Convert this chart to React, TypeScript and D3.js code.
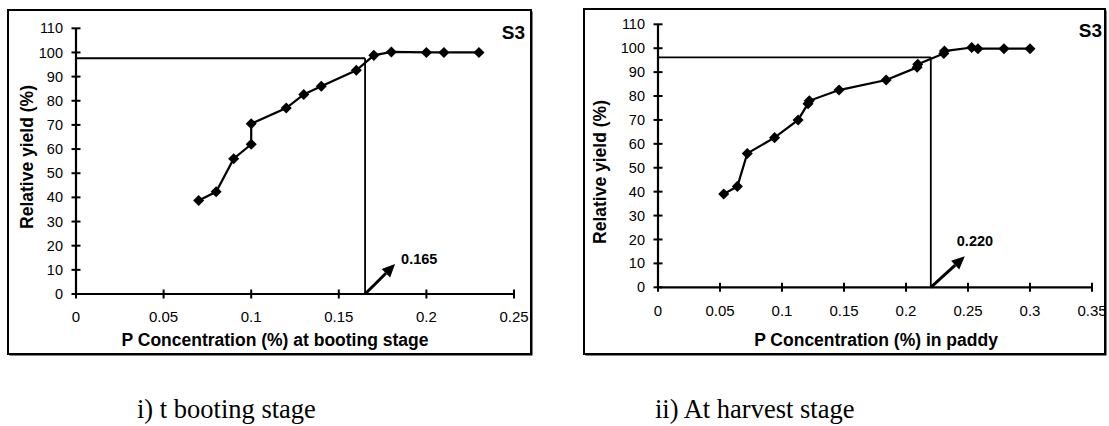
import React from "react";
import * as d3 from "d3";

// booting stage (left panel)
const bootP = [0.07, 0.08, 0.09, 0.1, 0.1, 0.12, 0.13, 0.14, 0.16, 0.17, 0.18, 0.2, 0.21, 0.23];
const bootRY = [38.7, 42.3, 56, 62, 70.5, 77, 82.6, 86, 92.6, 98.8, 100.2, 100, 100, 100];
const bootTicks = [0, 0.05, 0.1, 0.15, 0.2, 0.25];
const bootCritical = 0.165;
const bootCriticalRY = 97.6;

// paddy at harvest (right panel)
const paddyP = [0.053, 0.064, 0.072, 0.094, 0.113, 0.121, 0.122, 0.146, 0.184, 0.209, 0.2095, 0.2305, 0.231, 0.253, 0.258, 0.279, 0.3];
const paddyRY = [39, 42.2, 56, 62.6, 70, 76.8, 78, 82.5, 86.7, 92, 93.3, 97.8, 98.8, 100.3, 99.8, 99.8, 99.8];
const paddyTicks = [0, 0.05, 0.1, 0.15, 0.2, 0.25, 0.3, 0.35];
const paddyCritical = 0.22;
const paddyCriticalRY = 96.2;

const yTicks = [0, 10, 20, 30, 40, 50, 60, 70, 80, 90, 100, 110];

const SANS = '"Liberation Sans", Arial, sans-serif';
const SERIF = '"Liberation Serif", "Times New Roman", serif';

type PanelProps = {
  box: [number, number, number, number];
  xRange: [number, number];
  yRange: [number, number];
  xTicks: number[];
  px: number[];
  py: number[];
  crit: number;
  critY: number;
  xTitle: string;
  xTitleX: number;
  yTitleX: number;
  yTitleY: number;
  arrow: [number, number];
  labelOff: [number, number];
  s3: [number, number];
  caption: string;
  captionX: number;
};

function Panel(p: PanelProps) {
  const x = d3.scaleLinear().domain([0, p.xTicks[p.xTicks.length - 1]]).range(p.xRange);
  const y = d3.scaleLinear().domain([0, 110]).range(p.yRange);
  const line = d3
    .line<number>()
    .x((d, i) => x(p.px[i]))
    .y((d) => y(d));
  const [bx, by, bw, bh] = p.box;

  // arrow from the critical value on the x axis
  const sx = x(p.crit);
  const sy = y(0);
  const tx = sx + p.arrow[0];
  const ty = sy + p.arrow[1];
  const len = Math.hypot(p.arrow[0], p.arrow[1]);
  const ux = p.arrow[0] / len;
  const uy = p.arrow[1] / len;
  const hb = 13;
  const hw = 6;
  const bxh = tx - ux * hb;
  const byh = ty - uy * hb;
  const head = `M${tx},${ty}L${bxh - uy * hw},${byh + ux * hw}L${bxh + uy * hw},${byh - ux * hw}Z`;
  const marker = d3.symbol(d3.symbolDiamond2, 78)() || "";

  return (
    <g>
      <rect x={bx + 1.5} y={by + 1.5} width={bw} height={bh} fill="#000" />
      <rect x={bx} y={by} width={bw} height={bh} fill="#fff" stroke="#000" strokeWidth={2} />
      {/* reference lines */}
      <line x1={x(0)} x2={x(p.crit)} y1={y(p.critY)} y2={y(p.critY)} stroke="#000" strokeWidth={1.8} />
      <line x1={x(p.crit)} x2={x(p.crit)} y1={y(0)} y2={y(p.critY)} stroke="#000" strokeWidth={1.8} />
      {/* axes */}
      <line x1={x(0)} x2={x(0)} y1={y(0)} y2={y(110)} stroke="#000" strokeWidth={2.2} />
      <line x1={x(0)} x2={p.xRange[1]} y1={y(0)} y2={y(0)} stroke="#000" strokeWidth={2.2} />
      {yTicks.map((t) => (
        <g key={"y" + t}>
          <line x1={x(0) - 4.5} x2={x(0) + 4.5} y1={y(t)} y2={y(t)} stroke="#000" strokeWidth={2} />
          <text x={x(0) - 13} y={y(t)} dy="0.35em" textAnchor="end" fontSize={14.5} fontFamily={SANS}>
            {t}
          </text>
        </g>
      ))}
      {p.xTicks.map((t) => (
        <g key={"x" + t}>
          <line x1={x(t)} x2={x(t)} y1={y(0) - 4.5} y2={y(0) + 4.5} stroke="#000" strokeWidth={2} />
          <text x={x(t)} y={y(0) + 23} dy="0.35em" textAnchor="middle" fontSize={15} fontFamily={SANS}>
            {String(t)}
          </text>
        </g>
      ))}
      {/* data */}
      <path d={line(p.py) || ""} fill="none" stroke="#000" strokeWidth={2.2} />
      {p.py.map((v, i) => (
        <path key={"m" + i} d={marker} transform={`translate(${x(p.px[i])},${y(v)})`} fill="#000" />
      ))}
      {/* arrow */}
      <line x1={sx} y1={sy} x2={bxh} y2={byh} stroke="#000" strokeWidth={3} />
      <path d={head} fill="#000" />
      <text x={tx + p.labelOff[0]} y={ty + p.labelOff[1]} fontSize={14.5} fontWeight="bold" fontFamily={SANS}>
        {p.crit.toFixed(3)}
      </text>
      <text x={p.s3[0]} y={p.s3[1]} textAnchor="end" fontSize={19} fontWeight="bold" fontFamily={SANS}>
        S3
      </text>
      <text x={p.xTitleX} y={346} textAnchor="middle" fontSize={17.5} fontWeight="bold" fontFamily={SANS}>
        {p.xTitle}
      </text>
      <text
        transform={`translate(${p.yTitleX},${p.yTitleY}) rotate(-90)`}
        textAnchor="middle"
        fontSize={17.5}
        fontWeight="bold"
        fontFamily={SANS}
      >
        Relative yield (%)
      </text>
      <text x={p.captionX} y={418} fontSize={26.5} fontFamily={SERIF}>
        {p.caption}
      </text>
    </g>
  );
}

export default function App() {
  return (
    <svg width={1109} height={426} style={{ position: "absolute", left: 0, top: 0, background: "#fff" }}>
      <rect width={1109} height={426} fill="#fff" />
      <Panel
        box={[8, 10, 523, 344]}
        xRange={[76, 514]}
        yRange={[294, 28.3]}
        xTicks={bootTicks}
        px={bootP}
        py={bootRY}
        crit={bootCritical}
        critY={bootCriticalRY}
        xTitle="P Concentration (%) at booting stage"
        xTitleX={275}
        yTitleX={33}
        yTitleY={157}
        arrow={[30, -30]}
        labelOff={[6, 0]}
        s3={[525, 38.5]}
        caption="i) t booting stage"
        captionX={137}
      />
      <Panel
        box={[584, 9, 521, 345]}
        xRange={[658, 1092]}
        yRange={[287.3, 24.3]}
        xTicks={paddyTicks}
        px={paddyP}
        py={paddyRY}
        crit={paddyCritical}
        critY={paddyCriticalRY}
        xTitle="P Concentration (%) in paddy"
        xTitleX={876}
        yTitleX={606}
        yTitleY={172}
        arrow={[34, -31]}
        labelOff={[-8, -10]}
        s3={[1102, 36.7]}
        caption="ii) At harvest stage"
        captionX={655}
      />
    </svg>
  );
}
